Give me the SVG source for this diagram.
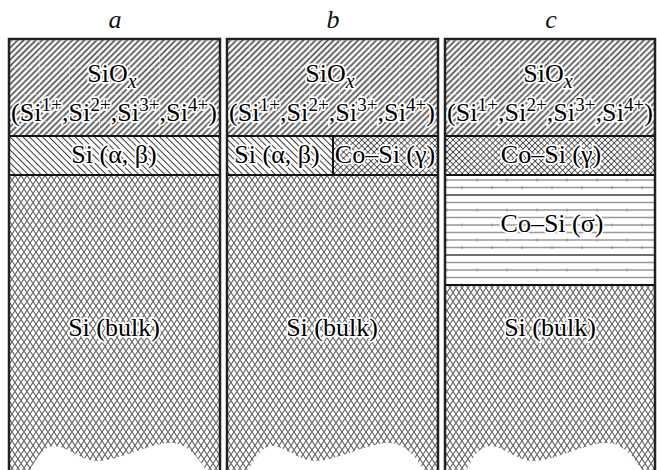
<svg xmlns="http://www.w3.org/2000/svg" width="657" height="470" viewBox="0 0 657 470">
<style>
.lbl{font-family:"Liberation Serif","Times New Roman",serif;font-size:26px;fill:#000;stroke:#fff;stroke-width:3.5px;stroke-linejoin:round;paint-order:stroke;text-anchor:middle}
.ttl{font-family:"Liberation Serif","Times New Roman",serif;font-size:26px;font-style:italic;fill:#111;text-anchor:middle}
.sup{font-size:19px}
.sub{font-size:20px;font-style:italic}
.frame{fill:none;stroke:#222;stroke-width:2.5}
.div{stroke:#111;stroke-width:2;fill:none}
.sio{fill:url(#p-sio)}
.grid{fill:url(#p-grid)}
.si{fill:url(#p-si)}
.cog{fill:url(#p-cog)}
.bulk{fill:url(#p-bulk)}
.cos{fill:url(#p-cos)}
.tear{fill:#fff}
</style>
<defs>
<pattern id="p-sio" width="4.3" height="4.3" patternUnits="userSpaceOnUse" patternTransform="rotate(-45)">
<rect width="4.3" height="4.3" fill="#fff"/>
<line x1="-1" y1="2.15" x2="5.3" y2="2.15" stroke="#4d4d4d" stroke-width="1.7"/>
</pattern>
<pattern id="p-grid" width="30" height="27" patternUnits="userSpaceOnUse" x="9" y="40">
<path d="M0,0.5 H30 M0.5,0 V27" stroke="#fff" stroke-width="0.8" stroke-dasharray="3 2" opacity="0.45" fill="none"/>
</pattern>
<pattern id="p-si" width="4.6" height="4.6" patternUnits="userSpaceOnUse" patternTransform="rotate(45)">
<rect width="4.6" height="4.6" fill="#fff"/>
<line x1="-1" y1="2.3" x2="5.6" y2="2.3" stroke="#333" stroke-width="1"/>
</pattern>
<pattern id="p-cog" width="4.3" height="4.3" patternUnits="userSpaceOnUse" patternTransform="rotate(45)">
<rect width="4.3" height="4.3" fill="#fff"/>
<path d="M-1,2.15 H5.3 M2.15,-1 V5.3" stroke="#555" stroke-width="1"/>
<circle cx="2.15" cy="2.15" r="0.6" fill="#222"/>
</pattern>
<pattern id="p-bulk" width="6" height="9" patternUnits="userSpaceOnUse">
<rect width="6" height="9" fill="#fff"/>
<path d="M0,0 L6,9 M6,0 L0,9" stroke="#666" stroke-width="1.15"/>
</pattern>
<pattern id="p-cos" width="30" height="60" patternUnits="userSpaceOnUse" x="445" y="175">
<rect width="30" height="60" fill="#fff"/>
<path d="M0,5 H30 M0,12.5 H30 M0,27.5 H30 M0,35 H30 M0,42.5 H30 M0,50 H30 M0,57.5 H30" stroke="#999" stroke-width="1.3"/>
<path d="M0,20 H30" stroke="#111" stroke-width="1.2"/>
<path d="M2,3.5 V6.5 M2,33.5 V36.5 M17,11 V14 M17,48.5 V51.5" stroke="#888" stroke-width="0.9"/>
</pattern>
</defs>

<g id="titles">
<text class="ttl" x="115" y="28">a</text>
<text class="ttl" x="333" y="28">b</text>
<text class="ttl" x="551" y="28">c</text>
</g>

<g id="panel-a">
<rect class="sio" x="9" y="39" width="211" height="97"/>
<rect class="grid" x="9" y="39" width="211" height="97"/>
<rect class="si" x="9" y="136" width="211" height="39"/>
<rect class="bulk" x="9" y="175" width="211" height="295"/>
<path class="tear" d="M30,471 C37,456 45,446 54,446 C67,446 81,461 97,461 C119,461 149,443 171,443 C189,443 199,460 207,471 Z"/>
<path class="div" d="M9,136 H220 M9,175 H220"/>
<path class="frame" d="M9,470 V39 H220 V470"/>
<text class="lbl" x="112" y="82">SiO<tspan class="sub" dy="6">x</tspan></text>
<text class="lbl" x="114" y="121" textLength="206" lengthAdjust="spacing">(Si<tspan class="sup" dy="-10">1+</tspan><tspan dy="10">,Si</tspan><tspan class="sup" dy="-10">2+</tspan><tspan dy="10">,Si</tspan><tspan class="sup" dy="-10">3+</tspan><tspan dy="10">,Si</tspan><tspan class="sup" dy="-10">4+</tspan><tspan dy="10">)</tspan></text>
<text class="lbl" x="114" y="163">Si (α, β)</text>
<text class="lbl" x="114" y="336">Si (bulk)</text>
</g>

<g id="panel-b">
<rect class="sio" x="227" y="39" width="211" height="97"/>
<rect class="grid" x="227" y="39" width="211" height="97"/>
<rect class="si" x="227" y="136" width="106" height="39"/>
<rect class="cog" x="333" y="136" width="105" height="39"/>
<rect class="bulk" x="227" y="175" width="211" height="295"/>
<path class="tear" d="M248,471 C255,456 263,446 272,446 C285,446 299,461 315,461 C337,461 367,443 389,443 C407,443 417,460 425,471 Z"/>
<path class="div" d="M227,136 H438 M227,175 H438 M333,136 V175"/>
<path class="frame" d="M227,470 V39 H438 V470"/>
<text class="lbl" x="330" y="82">SiO<tspan class="sub" dy="6">x</tspan></text>
<text class="lbl" x="332" y="121" textLength="206" lengthAdjust="spacing">(Si<tspan class="sup" dy="-10">1+</tspan><tspan dy="10">,Si</tspan><tspan class="sup" dy="-10">2+</tspan><tspan dy="10">,Si</tspan><tspan class="sup" dy="-10">3+</tspan><tspan dy="10">,Si</tspan><tspan class="sup" dy="-10">4+</tspan><tspan dy="10">)</tspan></text>
<text class="lbl" x="277" y="163">Si (α, β)</text>
<text class="lbl" x="385" y="163">Co–Si (γ)</text>
<text class="lbl" x="332" y="336">Si (bulk)</text>
</g>

<g id="panel-c">
<rect class="sio" x="445" y="39" width="211" height="97"/>
<rect class="grid" x="445" y="39" width="211" height="97"/>
<rect class="cog" x="445" y="136" width="211" height="39"/>
<rect class="cos" x="445" y="175" width="211" height="110"/>
<rect class="bulk" x="445" y="285" width="211" height="185"/>
<path class="tear" d="M466,471 C473,456 481,446 490,446 C503,446 517,461 533,461 C555,461 585,443 607,443 C625,443 635,460 643,471 Z"/>
<path class="div" d="M445,136 H656 M445,175 H656 M445,285 H656"/>
<path class="frame" d="M445,470 V39 H655 V470"/>
<text class="lbl" x="548" y="82">SiO<tspan class="sub" dy="6">x</tspan></text>
<text class="lbl" x="550" y="121" textLength="206" lengthAdjust="spacing">(Si<tspan class="sup" dy="-10">1+</tspan><tspan dy="10">,Si</tspan><tspan class="sup" dy="-10">2+</tspan><tspan dy="10">,Si</tspan><tspan class="sup" dy="-10">3+</tspan><tspan dy="10">,Si</tspan><tspan class="sup" dy="-10">4+</tspan><tspan dy="10">)</tspan></text>
<text class="lbl" x="551" y="163">Co–Si (γ)</text>
<text class="lbl" x="552" y="232">Co–Si (σ)</text>
<text class="lbl" x="550" y="336">Si (bulk)</text>
</g>

<g id="connectors"/>
</svg>
